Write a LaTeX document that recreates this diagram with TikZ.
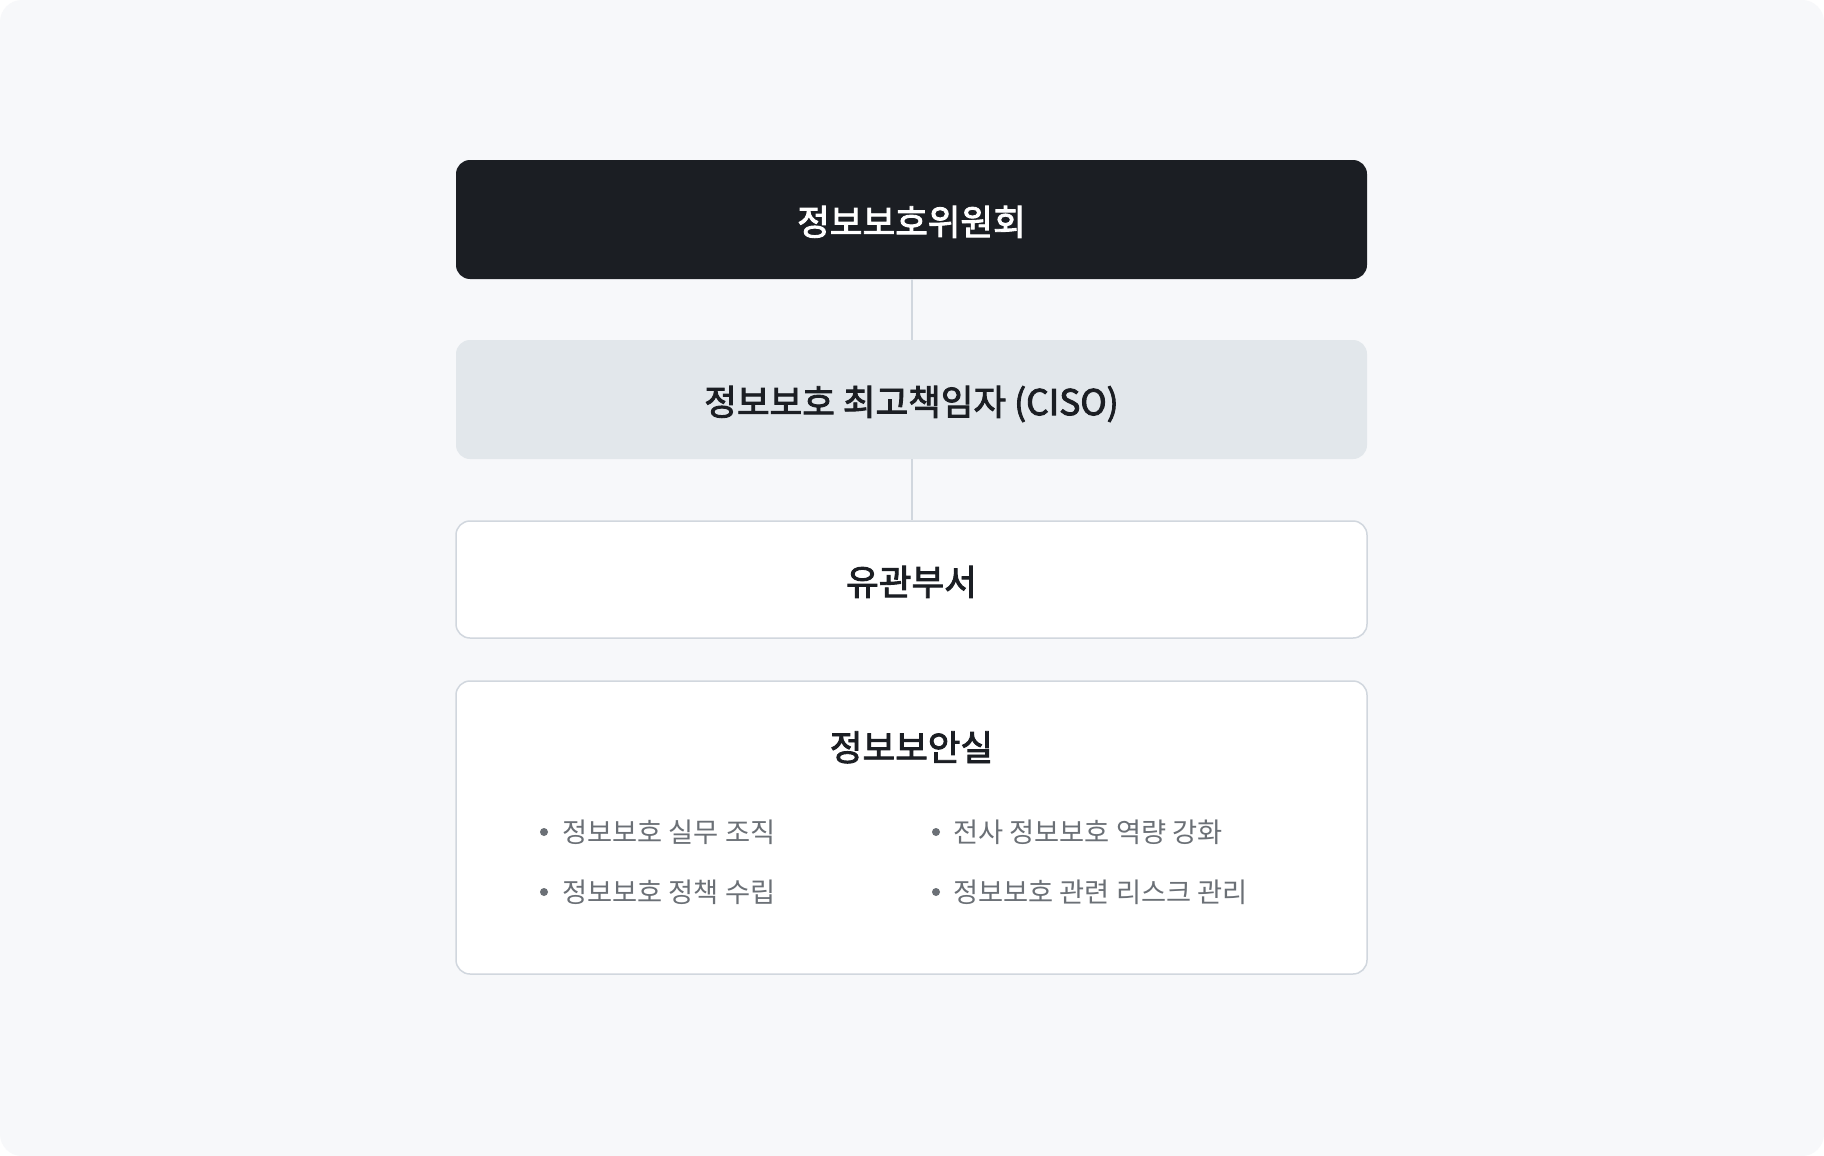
\documentclass[tikz,border=0pt]{standalone}
\usepackage{fontspec}
\setmainfont{Noto Sans CJK KR}
\newfontfamily\krmid{Noto Sans CJK KR}[FakeBold=2.5]
\usepackage{tikz}
\usetikzlibrary{positioning}
\definecolor{canvas}{HTML}{F7F8FA}
\definecolor{ink}{HTML}{1B1E23}
\definecolor{paleblue}{HTML}{E2E7EB}
\definecolor{edge}{HTML}{D1D7DE}
\definecolor{muted}{HTML}{6B7076}
\tikzstyle{orgbox}=[minimum width=911pt, minimum height=119pt, rounded corners=14pt, inner sep=0pt]
\tikzstyle{title}=[font=\fontsize{35.5pt}{40pt}\krmid, text=ink, text height=31.2pt, text depth=0pt]
\tikzstyle{item}=[font=\fontsize{27.3pt}{32pt}\selectfont, text=muted, anchor=west, inner sep=0pt]
\tikzstyle{dot}=[circle, fill=muted, minimum size=8pt, inner sep=0pt]
\tikzstyle{link}=[draw=edge, line width=2pt]

\begin{document}
\begin{tikzpicture}[x=1pt,y=-1pt]
\fill[white] (0,0) rectangle (1824,1156);
\fill[canvas, rounded corners=22pt] (0,0) rectangle (1824,1156);
\node[orgbox, fill=ink, title, text=white] (board) at (911.5,219.5) {정보보호위원회};
\node[orgbox, fill=paleblue, title] (ciso) at (911.5,399.5) {정보보호 최고책임자 (CISO)};
\node[orgbox, fill=white, draw=edge, line width=1.5pt, minimum height=117pt, title] (dept) at (911.5,579.5) {유관부서};
\node[orgbox, fill=white, draw=edge, line width=1.5pt, minimum height=293pt] (office) at (911.5,827.5) {};
\node[title] (officetitle) at (911.5,745) {정보보안실};
\draw[link] (board.south) -- (ciso.north);
\draw[link] (ciso.south) -- (dept.north);
% bullets
\node[dot] (d1) at (544,832) {};
\node[item] (i1) at (562,832) {정보보호 실무 조직};
\node[dot] (d2) at (544,892) {};
\node[item] (i2) at (562,892) {정보보호 정책 수립};
\node[dot] (d3) at (936,832) {};
\node[item] (i3) at (953,832) {전사 정보보호 역량 강화};
\node[dot] (d4) at (936,892) {};
\node[item] (i4) at (953,892) {정보보호 관련 리스크 관리};
\end{tikzpicture}
\end{document}
